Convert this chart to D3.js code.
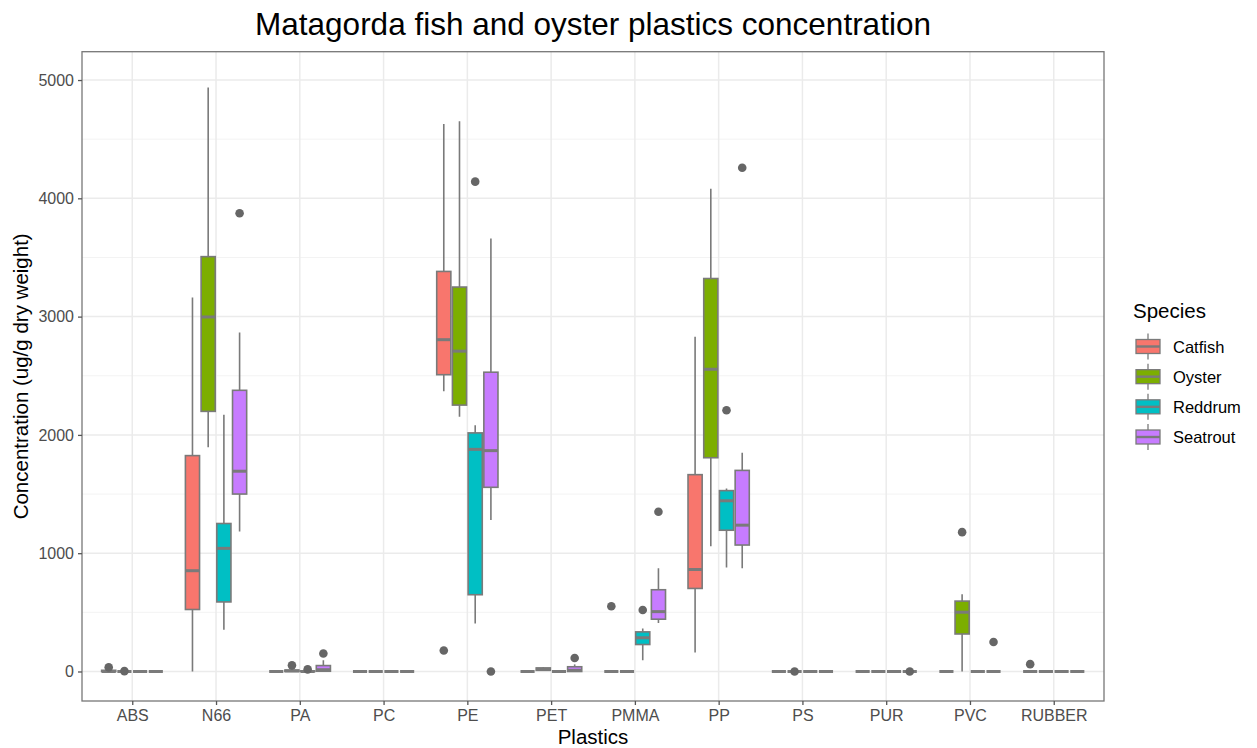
<!DOCTYPE html>
<html><head><meta charset="utf-8">
<script src="https://cdn.jsdelivr.net/npm/d3@7/dist/d3.min.js"></script>
<style>body{margin:0;background:#fff;} text{font-family:"Liberation Sans",Arial,sans-serif;}</style>
</head><body>
<svg id="chart" width="1257" height="748"></svg>
<script>
const categories = ["ABS","N66","PA","PC","PE","PET","PMMA","PP","PS","PUR","PVC","RUBBER"];
const species = ["Catfish","Oyster","Reddrum","Seatrout"];
const colors = ["#F8766D","#7CAE00","#00BFC4","#C77CFF"];
const yTicks = [0,1000,2000,3000,4000,5000];
const yMinor = [500,1500,2500,3500,4500];

// [lower whisker, q1, median, q3, upper whisker] per category
const Z = [0,0,0,0,0];
const catfish = [
  [0,0,0,10,20], [0,524,852,1825,3161], Z, Z, [2370,2509,2805,3382,4629], Z,
  Z, [160,702,862,1664,2830], Z, Z, Z, Z];
const oyster = [
  Z, [1896,2199,2997,3507,4936], [0,0,5,12,20], Z, [2153,2252,2708,3250,4651], [5,10,20,30,35],
  Z, [1058,1807,2555,3322,4081], Z, Z, [0,317,501,595,652], Z];
const reddrum = [
  Z, [353,588,1041,1251,2170], [0,0,0,5,10], Z, [406,649,1878,2017,2081], Z,
  [96,228,285,335,363], [880,1194,1443,1529,1547], Z, Z, Z, Z];
const seatrout = [
  Z, [1183,1500,1693,2377,2865], [0,2,15,50,95], Z, [1280,1557,1867,2530,3660], [0,0,10,40,60],
  [410,442,506,691,873], [873,1069,1237,1700,1850], Z, Z, Z, Z];
// outliers: [category, species, value]
const outliers = [
  ["ABS","Catfish",35],["ABS","Oyster",3],
  ["N66","Seatrout",3874],
  ["PA","Oyster",52],["PA","Reddrum",18],["PA","Seatrout",152],
  ["PE","Catfish",178],["PE","Reddrum",4141],["PE","Seatrout",0],
  ["PET","Seatrout",114],
  ["PMMA","Catfish",552],["PMMA","Reddrum",520],["PMMA","Seatrout",1351],
  ["PP","Reddrum",2208],["PP","Seatrout",4259],
  ["PS","Oyster",0],["PUR","Seatrout",0],
  ["PVC","Oyster",1178],["PVC","Seatrout",249],
  ["RUBBER","Catfish",62]
];
const statsBySpecies = [catfish, oyster, reddrum, seatrout];

const svg = d3.select("#chart");
const L = 82, R = 1104, T = 51.7, B = 701;
const x = d3.scalePoint().domain(categories).range([L, R]).padding(0.6);
const step = x.step();
const slot = step * 0.75 / species.length;
const boxW = slot * 0.9;
const yLo = -0.05 * 4990, yHi = 1.05 * 4990;
const y = d3.scaleLinear().domain([yLo, yHi]).range([B, T]);
const xs = d3.scaleBand().domain(species).range([-step*0.375, step*0.375]);

const grid = svg.append("g");
grid.selectAll(".minor").data(yMinor).join("line")
  .attr("x1", L).attr("x2", R).attr("y1", d => y(d)).attr("y2", d => y(d))
  .attr("stroke", "#f2f2f2").attr("stroke-width", 0.9);
grid.selectAll(".major").data(yTicks).join("line")
  .attr("x1", L).attr("x2", R).attr("y1", d => y(d)).attr("y2", d => y(d))
  .attr("stroke", "#ebebeb").attr("stroke-width", 1.5);
grid.selectAll(".vmajor").data(categories).join("line")
  .attr("x1", d => x(d)).attr("x2", d => x(d)).attr("y1", T).attr("y2", B)
  .attr("stroke", "#ebebeb").attr("stroke-width", 1.5);

const gray = "#7a7a7a";
const boxes = [];
statsBySpecies.forEach((arr, si) => arr.forEach((s, ci) => boxes.push({cat: categories[ci], sp: species[si], si, s})));
const bg = svg.append("g");
const bx = d => x(d.cat) + xs(d.sp) + xs.bandwidth()/2;
bg.selectAll(".wh").data(boxes).join("path")
  .attr("d", d => `M${bx(d)},${y(d.s[0])}V${y(d.s[1])}M${bx(d)},${y(d.s[3])}V${y(d.s[4])}`)
  .attr("stroke", gray).attr("stroke-width", 1.6).attr("fill", "none");
bg.selectAll(".bx").data(boxes.filter(d => d.s[3] > d.s[1])).join("rect")
  .attr("x", d => bx(d) - boxW/2).attr("width", boxW)
  .attr("y", d => y(d.s[3])).attr("height", d => y(d.s[1]) - y(d.s[3]))
  .attr("fill", d => colors[d.si]).attr("stroke", gray).attr("stroke-width", 1.6);
bg.selectAll(".md").data(boxes).join("line")
  .attr("x1", d => bx(d) - boxW/2).attr("x2", d => bx(d) + boxW/2)
  .attr("y1", d => y(d.s[2])).attr("y2", d => y(d.s[2]))
  .attr("stroke", gray).attr("stroke-width", 3);
bg.selectAll(".out").data(outliers).join("circle")
  .attr("cx", d => x(d[0]) + xs(d[1]) + xs.bandwidth()/2).attr("cy", d => y(d[2]))
  .attr("r", 4.3).attr("fill", "#666");

svg.append("rect").attr("x", L).attr("y", T).attr("width", R-L).attr("height", B-T)
  .attr("fill", "none").attr("stroke", "#777").attr("stroke-width", 1.3);

const yAxis = svg.append("g").attr("transform", `translate(${L},0)`)
  .call(d3.axisLeft(y).tickValues(yTicks).tickSize(4).tickPadding(4).tickFormat(d3.format("d")));
yAxis.select(".domain").remove();
yAxis.selectAll("line").attr("stroke", "#555").attr("stroke-width", 1.3);
yAxis.selectAll("text").attr("fill", "#4d4d4d").style("font-size", "16px").style("font-family", "Liberation Sans, Arial, sans-serif");

const xAxis = svg.append("g").attr("transform", `translate(0,${B})`)
  .call(d3.axisBottom(x).tickSize(4).tickPadding(5));
xAxis.select(".domain").remove();
xAxis.selectAll("line").attr("stroke", "#555").attr("stroke-width", 1.3);
xAxis.selectAll("text").attr("fill", "#4d4d4d").style("font-size", "16px").style("font-family", "Liberation Sans, Arial, sans-serif");

svg.append("text").attr("x", (L+R)/2).attr("y", 35).attr("text-anchor", "middle")
  .style("font-size", "31.5px").attr("fill", "#000").text("Matagorda fish and oyster plastics concentration");
svg.append("text").attr("x", (L+R)/2).attr("y", 744).attr("text-anchor", "middle")
  .style("font-size", "20.5px").attr("fill", "#000").text("Plastics");
svg.append("text").attr("transform", `translate(28,${(T+B)/2}) rotate(-90)`).attr("text-anchor", "middle")
  .style("font-size", "20.5px").attr("fill", "#000").text("Concentration (ug/g dry weight)");

const lg = svg.append("g");
lg.append("text").attr("x", 1133).attr("y", 318).style("font-size", "20.5px").attr("fill", "#000").text("Species");
const ly = d3.scalePoint().domain(species).range([346.5, 437]);
const items = lg.selectAll(".li").data(species).join("g").attr("transform", d => `translate(1148,${ly(d)})`);
items.append("line").attr("x1", 0).attr("x2", 0).attr("y1", -13).attr("y2", 13).attr("stroke", gray).attr("stroke-width", 1.3);
items.append("rect").attr("x", -12).attr("y", -7).attr("width", 24).attr("height", 14)
  .attr("fill", (d,i) => colors[i]).attr("stroke", gray).attr("stroke-width", 1.3);
items.append("line").attr("x1", -12).attr("x2", 12).attr("y1", 0).attr("y2", 0).attr("stroke", gray).attr("stroke-width", 2.4);
items.append("text").attr("x", 25).attr("y", 6).style("font-size", "16.5px").attr("fill", "#000").text(d => d);
</script>
</body></html>
